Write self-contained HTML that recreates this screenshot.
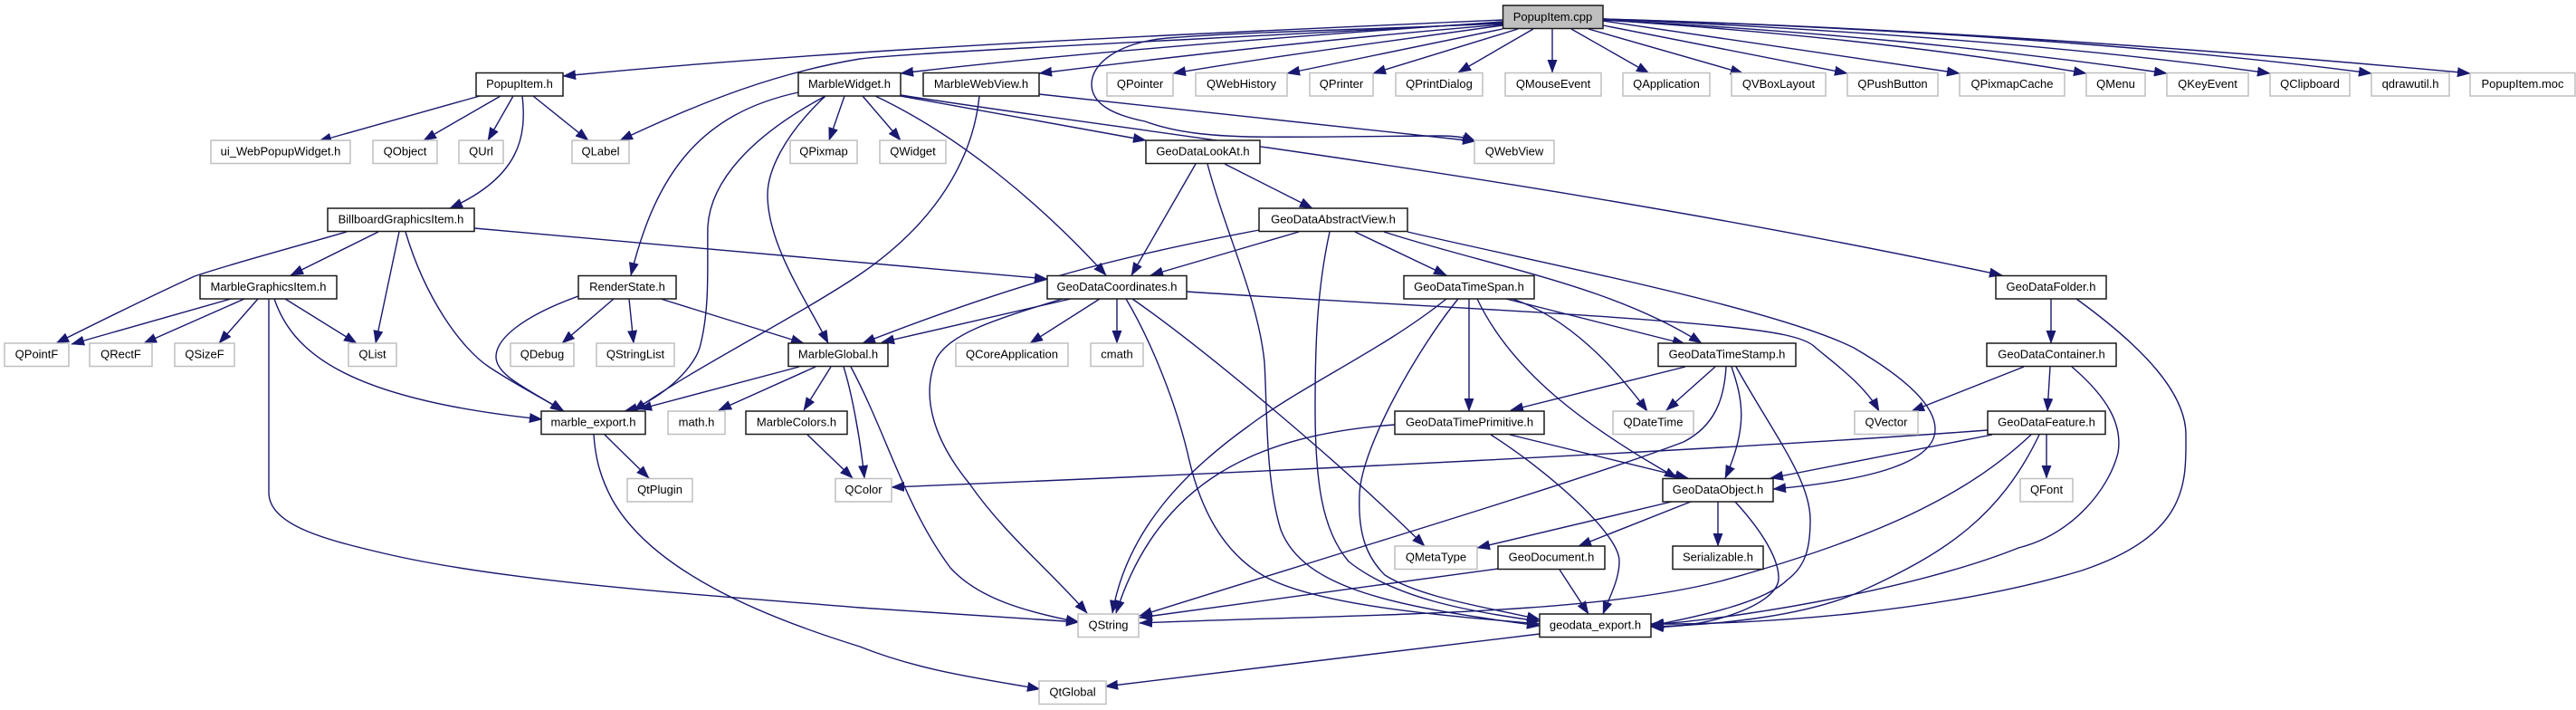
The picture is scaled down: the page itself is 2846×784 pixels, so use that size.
<!DOCTYPE html>
<html><head><meta charset="utf-8"><title>PopupItem.cpp include graph</title>
<style>
html,body{margin:0;padding:0;background:#fff}
svg{display:block}
.e path{fill:none;stroke:#191970;stroke-width:1.4;marker-end:url(#a)}
rect{fill:#fff;stroke:#1a1a1a;stroke-width:1.5}
.g rect{stroke:#bfbfbf}
text{font-family:"Liberation Sans",sans-serif;font-size:13px;text-anchor:middle;fill:#000}
</style></head><body>
<svg xmlns="http://www.w3.org/2000/svg" width="2846" height="784" viewBox="0 0 2846 784">
<defs><marker id="a" markerUnits="userSpaceOnUse" markerWidth="16" markerHeight="12" refX="14" refY="6" orient="auto"><path d="M0 .8L14 6L0 11.2z" fill="#191970" stroke="#191970" stroke-width=".5"/></marker></defs>
<g class="e">
<path d="M1660,22C1350,36 950,52 622,84"/>
<path d="M1660,25C1400,40 1000,58 950,65C860,80 780,110 685,155"/>
<path d="M1660,24C1400,42 1150,62 995,81"/>
<path d="M1660,27C1480,42 1300,62 1148,81"/>
<path d="M1660,26C1500,33 1380,35 1290,42C1235,47 1206,70 1206,93C1206,115 1230,127 1265,134C1300,147 1340,150 1380,151C1450,152 1550,150 1590,150C1610,150 1620,152 1630,156"/>
<path d="M1660,28C1540,45 1420,60 1296,81"/>
<path d="M1660,32L1422,81"/>
<path d="M1677,32L1517,81"/>
<path d="M1694,32L1611,80"/>
<path d="M1715,32L1715,80"/>
<path d="M1736,32L1822,81"/>
<path d="M1755,32L1926,81"/>
<path d="M1771,28L2041,81"/>
<path d="M1771,23L2165,81"/>
<path d="M1771,22C1950,34 2120,50 2305,81"/>
<path d="M1771,22C2000,34 2200,53 2394,81"/>
<path d="M1771,21C2050,33 2300,52 2508,81"/>
<path d="M1771,21C2100,31 2400,52 2620,81"/>
<path d="M1771,21C2100,30 2450,55 2729,81"/>
<path d="M530,106L352,156"/>
<path d="M553,106L468,155"/>
<path d="M567,106L539,155"/>
<path d="M589,106L650,155"/>
<path d="M577,106C582,150 575,195 497,230"/>
<path d="M882,102C775,125 725,190 697,304"/>
<path d="M912,106C830,150 785,200 782,250C781,290 785,340 773,384C765,410 725,445 690,454"/>
<path d="M912,106C865,150 848,190 848,215C848,270 890,330 915,379"/>
<path d="M933,106L916,155"/>
<path d="M953,106L995,155"/>
<path d="M967,106C1060,150 1150,225 1222,304"/>
<path d="M995,106L1266,155"/>
<path d="M995,105C1250,145 1700,195 2212,304"/>
<path d="M1082,106C1075,175 1035,245 950,303C880,350 760,410 700,454"/>
<path d="M1148,104L1630,156"/>
<path d="M383,256C300,280 260,290 215,305C160,330 100,360 62,379"/>
<path d="M418,256L321,304"/>
<path d="M441,256L415,379"/>
<path d="M448,256C470,330 510,385 540,405C570,425 600,440 623,454"/>
<path d="M524,252L1157,308"/>
<path d="M255,330L79,380"/>
<path d="M270,330L159,379"/>
<path d="M285,330L242,379"/>
<path d="M315,330L394,379"/>
<path d="M303,330C322,385 375,440 599,463"/>
<path d="M297,330L297,544C297,580 360,596 424,611C560,643 780,657 950,671L1192,687"/>
<path d="M639,327C575,350 548,375 548,394C548,415 585,430 622,454"/>
<path d="M678,330L621,379"/>
<path d="M695,330L700,379"/>
<path d="M730,330L888,379"/>
<path d="M883,405L706,452"/>
<path d="M901,405L794,453"/>
<path d="M918,405L888,453"/>
<path d="M932,405C940,430 950,480 955,528"/>
<path d="M940,405C980,480 1000,560 1050,627C1080,660 1130,675 1192,687"/>
<path d="M892,480L942,528"/>
<path d="M668,480L717,528"/>
<path d="M656,480C658,510 665,530 676,551C720,630 840,680 950,714C1020,742 1090,750 1149,761"/>
<path d="M1321,181L1250,304"/>
<path d="M1334,181C1355,260 1390,330 1397,400C1400,450 1398,530 1415,585C1440,650 1540,670 1701,691"/>
<path d="M1353,181L1450,230"/>
<path d="M1391,254C1230,285 1130,310 953,379"/>
<path d="M1435,256L1271,304"/>
<path d="M1469,256C1455,320 1453,380 1453,450C1453,530 1460,585 1490,620C1540,660 1620,675 1701,686"/>
<path d="M1497,256L1598,304"/>
<path d="M1529,256C1650,295 1780,315 1880,379"/>
<path d="M1555,256C1700,290 1960,340 2048,384C2110,420 2138,450 2138,474C2138,510 2070,530 1959,540"/>
<path d="M1183,330L974,378"/>
<path d="M1174,330C1090,355 1050,370 1035,395C1015,440 1035,490 1071,534C1110,590 1160,630 1201,677"/>
<path d="M1215,330L1138,379"/>
<path d="M1234,330L1234,379"/>
<path d="M1244,330C1265,365 1295,430 1312,500C1325,560 1350,610 1398,637C1460,670 1600,680 1701,689"/>
<path d="M1251,330C1330,385 1480,510 1574,603"/>
<path d="M1311,322C1500,335 1750,345 1900,360C1960,366 1995,372 2006,384C2025,400 2060,425 2076,454"/>
<path d="M1598,330C1530,385 1440,425 1380,470C1310,520 1245,585 1229,677"/>
<path d="M1611,330C1570,380 1505,490 1502,545C1500,590 1510,615 1530,635C1570,660 1640,670 1701,684"/>
<path d="M1623,330L1623,454"/>
<path d="M1632,330C1670,410 1750,470 1853,528"/>
<path d="M1664,330L1862,380"/>
<path d="M1671,330C1730,350 1780,400 1820,454"/>
<path d="M1862,405L1669,453"/>
<path d="M1895,405L1841,453"/>
<path d="M1907,405C1905,440 1895,470 1860,488C1750,530 1450,620 1259,680"/>
<path d="M1913,405C1925,440 1932,470 1906,528"/>
<path d="M1918,405C1960,480 2000,530 2000,574C2000,605 1995,625 1975,640C1950,665 1880,680 1824,691"/>
<path d="M1541,469C1390,480 1280,530 1233,677"/>
<path d="M1647,480C1710,520 1790,590 1789,620C1789,640 1778,660 1771,678"/>
<path d="M1668,480L1865,528"/>
<path d="M1847,554L1632,605"/>
<path d="M1868,554L1744,603"/>
<path d="M1898,554L1898,603"/>
<path d="M1917,554C1950,590 1966,620 1965,640C1962,670 1880,695 1824,692"/>
<path d="M1655,628L1259,682"/>
<path d="M1723,629L1755,678"/>
<path d="M2196,475C1900,497 1400,521 985,538"/>
<path d="M2201,480L1956,528"/>
<path d="M2244,480C2180,540 2090,590 1900,642C1750,680 1500,678 1259,688"/>
<path d="M2253,480C2210,570 2150,610 2060,651C2000,680 1900,690 1824,692"/>
<path d="M2261,480L2261,528"/>
<path d="M2236,405L2112,454"/>
<path d="M2265,405L2262,454"/>
<path d="M2289,405C2330,440 2345,470 2340,500C2330,540 2290,590 2230,605C2130,645 1950,680 1824,690"/>
<path d="M2266,330L2266,379"/>
<path d="M2294,330C2370,385 2415,435 2415,480C2415,530 2420,590 2300,630C2150,675 1950,690 1824,689"/>
<path d="M1701,700L1221,758"/>
</g>
<g>
<rect x="1660.5" y="6" width="110.5" height="25.5" style="fill:#bfbfbf"/><text x="1715.5" y="23">PopupItem.cpp</text>
<rect x="526" y="80.5" width="96" height="25.5"/><text x="574" y="97">PopupItem.h</text>
<rect x="882" y="80.5" width="113" height="25.5"/><text x="938.5" y="97">MarbleWidget.h</text>
<rect x="1020" y="80.5" width="128" height="25.5"/><text x="1084" y="97">MarbleWebView.h</text>
<rect x="362" y="230" width="162" height="25.5"/><text x="443" y="246.5">BillboardGraphicsItem.h</text>
<rect x="221" y="304.5" width="151" height="25.5"/><text x="296.5" y="321">MarbleGraphicsItem.h</text>
<rect x="639" y="304.5" width="108" height="25.5"/><text x="693" y="321">RenderState.h</text>
<rect x="871" y="379" width="110" height="25.5"/><text x="926" y="395.5">MarbleGlobal.h</text>
<rect x="1266" y="155" width="126" height="25.5"/><text x="1329" y="171.5">GeoDataLookAt.h</text>
<rect x="1391" y="230" width="164" height="25.5"/><text x="1473" y="246.5">GeoDataAbstractView.h</text>
<rect x="1157" y="304.5" width="154" height="25.5"/><text x="1234" y="321">GeoDataCoordinates.h</text>
<rect x="1551" y="304.5" width="144" height="25.5"/><text x="1623" y="321">GeoDataTimeSpan.h</text>
<rect x="1832" y="379" width="152" height="25.5"/><text x="1908" y="395.5">GeoDataTimeStamp.h</text>
<rect x="2205" y="304.5" width="122" height="25.5"/><text x="2266" y="321">GeoDataFolder.h</text>
<rect x="2195" y="379" width="143" height="25.5"/><text x="2266.5" y="395.5">GeoDataContainer.h</text>
<rect x="598" y="454" width="115" height="25.5"/><text x="655.5" y="470.5">marble_export.h</text>
<rect x="824" y="454" width="112" height="25.5"/><text x="880" y="470.5">MarbleColors.h</text>
<rect x="1541" y="454" width="165" height="25.5"/><text x="1623.5" y="470.5">GeoDataTimePrimitive.h</text>
<rect x="2196" y="454" width="130" height="25.5"/><text x="2261" y="470.5">GeoDataFeature.h</text>
<rect x="1837" y="528.5" width="122" height="25.5"/><text x="1898" y="545">GeoDataObject.h</text>
<rect x="1655" y="603" width="118" height="25.5"/><text x="1714" y="619.5">GeoDocument.h</text>
<rect x="1848" y="603" width="100" height="25.5"/><text x="1898" y="619.5">Serializable.h</text>
<rect x="1701" y="678" width="123" height="25.5"/><text x="1762.5" y="694.5">geodata_export.h</text>
</g>
<g class="g">
<rect x="233" y="155" width="154" height="25.5"/><text x="310" y="171.5">ui_WebPopupWidget.h</text>
<rect x="412" y="155" width="71" height="25.5"/><text x="447.5" y="171.5">QObject</text>
<rect x="507" y="155" width="49" height="25.5"/><text x="531.5" y="171.5">QUrl</text>
<rect x="632" y="155" width="63" height="25.5"/><text x="663.5" y="171.5">QLabel</text>
<rect x="873" y="155" width="74" height="25.5"/><text x="910" y="171.5">QPixmap</text>
<rect x="972" y="155" width="73" height="25.5"/><text x="1008.5" y="171.5">QWidget</text>
<rect x="1629" y="155" width="88" height="25.5"/><text x="1673" y="171.5">QWebView</text>
<rect x="1223" y="80.5" width="73" height="25.5"/><text x="1259.5" y="97">QPointer</text>
<rect x="1321" y="80.5" width="101" height="25.5"/><text x="1371.5" y="97">QWebHistory</text>
<rect x="1447" y="80.5" width="70" height="25.5"/><text x="1482" y="97">QPrinter</text>
<rect x="1542" y="80.5" width="96" height="25.5"/><text x="1590" y="97">QPrintDialog</text>
<rect x="1663" y="80.5" width="106" height="25.5"/><text x="1716" y="97">QMouseEvent</text>
<rect x="1793" y="80.5" width="96" height="25.5"/><text x="1841" y="97">QApplication</text>
<rect x="1913" y="80.5" width="104" height="25.5"/><text x="1965" y="97">QVBoxLayout</text>
<rect x="2041" y="80.5" width="100" height="25.5"/><text x="2091" y="97">QPushButton</text>
<rect x="2165" y="80.5" width="116" height="25.5"/><text x="2223" y="97">QPixmapCache</text>
<rect x="2305" y="80.5" width="65" height="25.5"/><text x="2337.5" y="97">QMenu</text>
<rect x="2394" y="80.5" width="90" height="25.5"/><text x="2439" y="97">QKeyEvent</text>
<rect x="2508" y="80.5" width="88" height="25.5"/><text x="2552" y="97">QClipboard</text>
<rect x="2620" y="80.5" width="86" height="25.5"/><text x="2663" y="97">qdrawutil.h</text>
<rect x="2729" y="80.5" width="116" height="25.5"/><text x="2787" y="97">PopupItem.moc</text>
<rect x="5" y="379" width="71" height="25.5"/><text x="40.5" y="395.5">QPointF</text>
<rect x="99" y="379" width="69" height="25.5"/><text x="133.5" y="395.5">QRectF</text>
<rect x="193" y="379" width="66" height="25.5"/><text x="226" y="395.5">QSizeF</text>
<rect x="385" y="379" width="53" height="25.5"/><text x="411.5" y="395.5">QList</text>
<rect x="564" y="379" width="70" height="25.5"/><text x="599" y="395.5">QDebug</text>
<rect x="659" y="379" width="86" height="25.5"/><text x="702" y="395.5">QStringList</text>
<rect x="1056" y="379" width="124" height="25.5"/><text x="1118" y="395.5">QCoreApplication</text>
<rect x="1205" y="379" width="58" height="25.5"/><text x="1234" y="395.5">cmath</text>
<rect x="738" y="454" width="63" height="25.5"/><text x="769.5" y="470.5">math.h</text>
<rect x="1782" y="454" width="89" height="25.5"/><text x="1826.5" y="470.5">QDateTime</text>
<rect x="2049" y="454" width="70" height="25.5"/><text x="2084" y="470.5">QVector</text>
<rect x="693" y="528.5" width="72" height="25.5"/><text x="729" y="545">QtPlugin</text>
<rect x="923" y="528.5" width="62" height="25.5"/><text x="954" y="545">QColor</text>
<rect x="2232" y="528.5" width="58" height="25.5"/><text x="2261" y="545">QFont</text>
<rect x="1541" y="603" width="91" height="25.5"/><text x="1586.5" y="619.5">QMetaType</text>
<rect x="1191" y="678" width="67" height="25.5"/><text x="1224.5" y="694.5">QString</text>
<rect x="1148" y="752" width="74" height="25.5"/><text x="1185" y="768.5">QtGlobal</text>
</g>
</svg>
</body></html>
